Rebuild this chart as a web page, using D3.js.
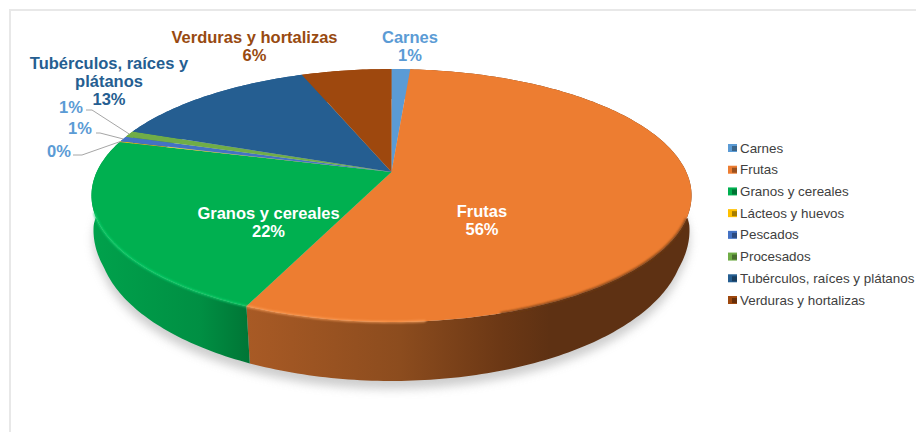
<!DOCTYPE html>
<html lang="es">
<head>
<meta charset="UTF-8">
<title>Grupos de alimentos</title>
<script src="https://d3js.org/d3.v7.min.js"></script>
<style>
  body { margin: 0; background: #fff; overflow: hidden; }
  svg { display: block; font-family: "Liberation Sans", Arial, sans-serif; }
</style>
</head>
<body>
<svg id="chart" width="916" height="432"></svg>
<script>
const categories = ["Carnes", "Frutas", "Granos y cereales", "Lácteos y huevos", "Pescados", "Procesados", "Tubérculos, raíces y plátanos", "Verduras y hortalizas"];
const values = [1.2, 55.5, 22.45, 0.1, 0.7, 0.8, 13.45, 5.8];
const colors = ["#5b9bd5", "#ed7d31", "#00b050", "#ffc000", "#4472c4", "#70ad47", "#255e91", "#9e480e"];
// side wall gradient stops [x, colour], only the two big slices show a wall
const wallStops = {
  1: [[248, "#a85a25"], [400, "#8c4c1e"], [500, "#6c3815"], [550, "#5e3113"], [692, "#5e3113"]],
  2: [[91, "#00a24c"], [200, "#008f43"], [248, "#007636"]]
};

const svg = d3.select("#chart");
const defs = svg.append("defs");
defs.append("filter").attr("id", "soft").attr("x", "-10%").attr("y", "-10%").attr("width", "120%").attr("height", "120%")
  .append("feGaussianBlur").attr("stdDeviation", 5);
defs.append("filter").attr("id", "rim").attr("filterUnits", "userSpaceOnUse")
  .attr("x", 0).attr("y", 0).attr("width", 916).attr("height", 432)
  .append("feGaussianBlur").attr("stdDeviation", 1);

// chart frame, only top and left are visible in the crop
svg.append("path").attr("d", "M10,432V10H916").attr("fill", "none").attr("stroke", "#e8e8e8").attr("stroke-width", 2);

// perspective of the tilted disc: apex sits above the middle of the ellipse
const apexX = 391.5, apexY = 172;
const k = -0.1858;
function projector(y0, A, B, flare) {
  return function(angle) {
    const u = Math.sin(angle), v = -Math.cos(angle);
    const w = 1 + k * v;
    // the wall stays wider near its top end, then tucks in
    const spread = 1 + flare * Math.max(0, Math.min(1, (0.4 - v / w) / 0.32));
    return [apexX + B * spread * u / w, y0 + A * v / w];
  };
}
const projectTop = projector(apexY, 122.1, 294.8, 0);
const projectBottom = projector(213.8, 136.1, 288, 0.022);

const pie = d3.pie().value(d => d).sort(null);
const arcs = pie(values);
const line = d3.line();

function rimAngles(a) {
  const n = Math.max(2, Math.ceil((a.endAngle - a.startAngle) * 60));
  return d3.range(n + 1).map(i => a.startAngle + (a.endAngle - a.startAngle) * i / n);
}

// soft shadow under the disc
const outline = d3.range(0, 181).map(i => projectBottom(i * Math.PI / 90));
svg.append("path")
  .attr("d", line(outline.map(p => [p[0], p[1] + 8])) + "Z")
  .attr("fill", "#bdbdbd").attr("opacity", 0.75).attr("filter", "url(#soft)");

// side walls
arcs.forEach((a, i) => {
  const angles = rimAngles(a);
  const rim = angles.map(projectTop).concat(angles.map(projectBottom).reverse());
  let fill = colors[i];
  if (wallStops[i]) {
    const stops = wallStops[i];
    const x0 = stops[0][0], x1 = stops[stops.length - 1][0];
    const g = defs.append("linearGradient").attr("id", "wall" + i)
      .attr("gradientUnits", "userSpaceOnUse")
      .attr("x1", x0).attr("x2", x1).attr("y1", 0).attr("y2", 0);
    stops.forEach(s => g.append("stop").attr("offset", (s[0] - x0) / (x1 - x0)).attr("stop-color", s[1]));
    fill = `url(#wall${i})`;
  }
  svg.append("path").attr("d", line(rim) + "Z").attr("fill", fill);
});

// top faces
arcs.forEach((a, i) => {
  svg.append("path")
    .attr("d", line([[apexX, apexY]].concat(rimAngles(a).map(projectTop))) + "Z")
    .attr("fill", colors[i]);
});

// bevel on the front edge: light on the left, dark on the right
const frutasRim = rimAngles(arcs[1]).map(projectTop);
const granosRim = rimAngles(arcs[2]).map(projectTop);
[
  [granosRim.filter(p => p[1] > 212), "#14d873", 1.6],
  [frutasRim.filter(p => p[1] > 212 && p[0] < 430), "#ffa25c", 1.6],
  [frutasRim.filter(p => p[1] > 218 && p[0] > 500), "#6f3a16", 2]
].forEach(([pts, c, w]) => {
  svg.append("path").attr("d", line(pts)).attr("fill", "none")
    .attr("stroke", c).attr("stroke-width", w).attr("filter", "url(#rim)");
});

// data labels
const pct = d3.format(".0%");
const labels = [
  { i: 0, lines: ["Carnes"], x: 410, y: 43, color: "#5b9bd5" },
  { i: 7, lines: ["Verduras y hortalizas"], x: 254.5, y: 43, color: "#984a10" },
  { i: 6, lines: ["Tubérculos, raíces y", "plátanos"], x: 109, y: 69, color: "#255e91" },
  { i: 1, lines: ["Frutas"], x: 482, y: 217, color: "#ffffff" },
  { i: 2, lines: ["Granos y cereales"], x: 268.5, y: 219, color: "#ffffff" },
  { i: 5, lines: [], x: 71, y: 113, color: "#5b9bd5" },
  { i: 4, lines: [], x: 80, y: 134, color: "#5b9bd5" },
  { i: 3, lines: [], x: 59, y: 157, color: "#5b9bd5" }
];
labels.forEach(l => {
  const t = svg.append("text").attr("text-anchor", "middle").attr("font-weight", "bold")
    .attr("font-size", 16.5).attr("fill", l.color);
  l.lines.concat(pct(values[l.i] / d3.sum(values))).forEach((s, j) => {
    t.append("tspan").attr("x", l.x).attr("y", l.y + j * 18).text(s);
  });
});

// leader lines, from label to the rim of the thin slices
[[5, 86, 92, 110], [4, 96, 100, 133], [3, 73, 82, 155]].forEach(([i, x0, x1, y]) => {
  const a = arcs[i];
  const end = projectTop((a.startAngle + a.endAngle) / 2);
  svg.append("path").attr("d", line([[x0, y], [x1, y], end]))
    .attr("fill", "none").attr("stroke", "#a6a6a6").attr("stroke-width", 1);
});

// legend
const legendY = d3.scalePoint().domain(categories).range([148, 300]);
const legend = svg.append("g").selectAll("g").data(categories).join("g")
  .attr("transform", d => `translate(728,${legendY(d)})`);
legend.append("rect").attr("x", 0).attr("y", -4).attr("width", 9).attr("height", 8)
  .attr("fill", (d, i) => colors[i]);
legend.append("rect").attr("x", 4).attr("y", -2).attr("width", 5).attr("height", 5)
  .attr("fill", "#000").attr("opacity", 0.35);
legend.append("text").attr("x", 12).attr("y", 4.5)
  .attr("font-size", 13.4).attr("fill", "#404040").text(d => d);
</script>
</body>
</html>
